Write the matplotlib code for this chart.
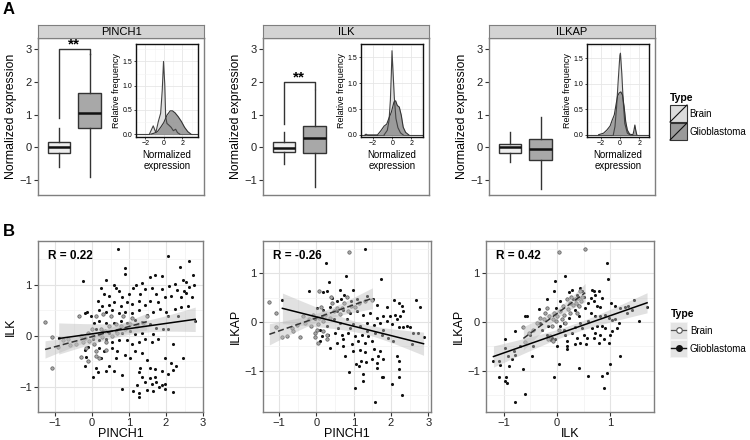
import numpy as np
import matplotlib
matplotlib.use('Agg')
import matplotlib.pyplot as plt
from matplotlib.patches import Rectangle

plt.rcParams['font.family'] = ['Liberation Sans', 'DejaVu Sans']

W, H = 750, 440

# ---------------- panel A data ----------------
genes = ['PINCH1', 'ILK', 'ILKAP']
types = ['Brain', 'Glioblastoma']

# whislo, q1, median, q3, whishi
box_brain = [[-0.60, -0.18, 0.00, 0.17, 0.58],
             [-0.50, -0.15, -0.02, 0.17, 0.48],
             [-0.44, -0.18, 0.02, 0.10, 0.48]]
box_gbm = [[-0.92, 0.60, 1.06, 1.68, 2.85],
           [-1.22, -0.16, 0.28, 0.66, 1.75],
           [-1.29, -0.39, -0.05, 0.27, 0.94]]

signif = ['**', '**', '']
bracket_top = [3.0, 2.0, None]
bracket_left = [0.89, 0.72, None]
bracket_right = [2.87, 1.80, None]

# density insets (x, relative frequency)
dens_brain = {
    'PINCH1': ([-1.55, -1.14, -0.86, -0.59, -0.34, -0.17, -0.03, 0.10, 0.20, 0.34, 0.52, 0.79, 1.03, 1.28, 1.48, 1.72],
               [0.00, 0.17, 0.03, 0.26, 0.43, 0.90, 1.50, 1.04, 0.36, 0.22, 0.19, 0.14, 0.07, 0.10, 0.03, 0.00]),
    'ILK': ([-0.86, -0.52, -0.34, -0.20, -0.10, -0.03, 0.07, 0.21, 0.38, 0.59, 0.86, 1.14],
            [0.00, 0.09, 0.28, 0.67, 1.18, 1.63, 1.25, 0.73, 0.32, 0.14, 0.04, 0.00]),
    'ILKAP': ([-0.71, -0.54, -0.37, -0.20, -0.03, 0.03, 0.17, 0.31, 0.48, 0.75, 0.99],
              [0.00, 0.16, 0.55, 1.07, 1.56, 1.60, 1.20, 0.68, 0.22, 0.03, 0.00]),
}
dens_gbm = {
    'PINCH1': ([-1.38, -1.03, -0.69, -0.34, 0.00, 0.34, 0.69, 0.93, 1.21, 1.55, 1.90, 2.24, 2.59, 2.93],
               [0.00, 0.02, 0.05, 0.14, 0.24, 0.39, 0.48, 0.48, 0.44, 0.36, 0.26, 0.14, 0.05, 0.00]),
    'ILK': ([-2.85, -2.75, -2.60, -1.55, -1.20, -0.86, -0.58, -0.34, -0.10, 0.18, 0.35, 0.52, 0.73, 0.94, 1.14, 1.39, 1.73],
            [0.00, 0.015, 0.00, 0.00, 0.08, 0.17, 0.21, 0.33, 0.44, 0.64, 0.66, 0.57, 0.54, 0.38, 0.15, 0.05, 0.00]),
    'ILKAP': ([-2.24, -1.73, -1.39, -1.05, -0.82, -0.61, -0.44, -0.27, -0.10, 0.07, 0.24, 0.41, 0.58, 0.75, 0.99, 1.33, 1.43, 1.53, 1.63, 1.73],
              [0.00, 0.03, 0.09, 0.17, 0.29, 0.39, 0.58, 0.76, 0.82, 0.84, 0.78, 0.55, 0.25, 0.09, 0.01, 0.00, 0.08, 0.19, 0.08, 0.00]),
}
inset_xlim = {'PINCH1': (-2.66, 3.69), 'ILK': (-3.27, 3.21), 'ILKAP': (-3.45, 2.85)}
inset_ylim = {'PINCH1': (-0.06, 1.86), 'ILK': (-0.04, 1.76), 'ILKAP': (-0.045, 1.78)}

# ---------------- panel B data ----------------
pinch1_ilk_gbm = [
    (0.71, 1.70), (2.05, 1.56), (2.63, 1.47), (2.37, 1.34), (0.88, 1.33), (2.74, 1.20), (0.90, 1.22),
    (-0.25, 1.08), (0.39, 1.09), (1.70, 1.19), (1.88, 1.18), (1.57, 1.16), (2.25, 1.01), (2.08, 0.97),
    (2.30, 0.89), (2.48, 0.88), (2.54, 0.83), (2.40, 0.75), (2.14, 0.78), (2.76, 1.00), (2.79, 0.28),
    (0.59, 1.00), (0.64, 0.94), (0.24, 0.94), (0.33, 0.81), (0.46, 0.78), (0.73, 0.88), (0.81, 0.75),
    (0.99, 0.81), (1.12, 0.94), (1.19, 1.00), (1.35, 1.03), (1.43, 0.91), (1.30, 0.81), (1.61, 0.94),
    (1.74, 0.81), (1.88, 0.91), (1.96, 0.75), (1.79, 0.66), (1.57, 0.69), (1.43, 0.61), (1.26, 0.69),
    (1.08, 0.63), (0.95, 0.66), (0.77, 0.59), (0.59, 0.66), (0.46, 0.61), (0.28, 0.59), (0.15, 0.69),
    (0.19, 0.50), (0.37, 0.47), (0.55, 0.51), (0.73, 0.44), (0.90, 0.47), (1.08, 0.44), (1.26, 0.50),
    (1.48, 0.41), (1.66, 0.47), (1.83, 0.53), (2.01, 0.47), (2.23, 0.53), (2.41, 0.56), (2.60, 0.59),
    (2.32, 0.38), (2.05, 0.38), (-0.14, 0.47), (-0.20, 0.44), (-0.34, 0.38), (-0.03, 0.38), (0.06, 0.25),
    (0.19, 0.28), (0.37, 0.25), (0.59, 0.25), (0.77, 0.28), (0.95, 0.25), (1.17, 0.31), (1.35, 0.26),
    (1.57, 0.22), (1.74, 0.16), (1.92, 0.13), (2.05, 0.13), (0.11, 0.13), (0.28, 0.09), (0.46, 0.06),
    (0.64, 0.09), (0.81, 0.05), (1.04, 0.09), (1.17, 0.03), (1.35, 0.06), (1.66, 0.03), (0.02, -0.06),
    (0.19, -0.09), (0.37, -0.06), (0.55, -0.13), (0.73, -0.08), (0.95, -0.09), (1.08, -0.16), (1.26, -0.13),
    (1.43, -0.06), (1.61, -0.13), (1.79, -0.06), (-0.20, -0.28), (-0.12, -0.22), (0.19, -0.25), (0.33, -0.31),
    (0.55, -0.25), (0.68, -0.31), (0.90, -0.38), (1.17, -0.31), (1.35, -0.34), (1.04, -0.44), (0.64, -0.44),
    (0.24, -0.44), (-0.16, -0.41), (-0.20, -0.59), (0.11, -0.63), (0.46, -0.59), (0.59, -0.69), (0.81, -0.78),
    (0.02, -0.81), (0.15, -0.72), (0.37, -0.69), (1.48, -0.47), (1.96, -0.44), (2.19, -0.16), (2.45, -0.44),
    (2.14, -0.53), (2.05, -0.75), (2.26, -0.59), (2.20, -0.68), (1.30, -0.63), (1.26, -0.72), (1.35, -0.81),
    (1.43, -0.91), (1.57, -0.84), (1.70, -0.81), (1.61, -0.94), (1.74, -0.91), (1.88, -0.97), (1.96, -0.95),
    (1.22, -0.97), (0.81, -1.05), (1.12, -1.08), (1.26, -1.13), (1.28, -1.20), (1.48, -1.06), (1.64, -1.09),
    (1.81, -1.01), (2.20, -1.11), (1.96, -1.05), (1.57, -0.63), (1.70, -0.66), (1.88, -0.69), (-0.90, -0.05),
    (2.55, 1.05), (2.70, 0.75), (2.45, 1.10), (2.62, 0.95),
]
pinch1_ilk_brain = [
    (-1.27, 0.26), (-1.09, -0.63), (-1.09, -0.03), (-0.91, -0.22), (-0.78, -0.09), (-0.65, -0.06),
    (-0.60, -0.19), (-0.42, -0.16), (-0.36, 0.39), (-0.29, 0.00), (-0.25, -0.13), (-0.18, -0.05),
    (-0.12, 0.06), (-0.07, -0.11), (0.00, 0.13), (0.04, 0.00), (0.06, -0.16), (0.11, 0.38), (0.12, -0.31),
    (0.19, 0.03), (0.24, 0.14), (0.28, -0.03), (0.31, 0.42), (0.35, 0.09), (0.39, -0.13), (0.46, 0.19),
    (0.50, 0.38), (0.55, 0.00), (0.64, 0.22), (0.68, 0.06), (0.77, 0.19), (0.83, 0.39), (0.90, 0.13),
    (1.04, 0.22), (1.08, 0.34), (1.21, 0.19), (1.37, 0.25), (1.48, 0.38), (0.19, -0.44), (-0.12, -0.50),
    (0.11, -0.39), (0.37, -0.28), (-0.29, -0.41), (-0.16, -0.25),
]
pinch1_ilkap_gbm = [
    (0.26, 1.20), (0.79, 0.95), (1.30, 1.49), (1.72, 0.88), (-0.19, 0.64), (0.35, 0.81), (0.19, 0.61),
    (0.29, 0.63), (0.41, 0.49), (0.63, 0.66), (0.74, 0.56), (0.83, 0.51), (0.99, 0.65), (0.65, 0.46),
    (0.54, 0.42), (0.92, 0.42), (1.08, 0.46), (1.35, 0.54), (1.51, 0.46), (1.62, 0.35), (1.88, 0.31),
    (2.08, 0.44), (2.21, 0.39), (2.30, 0.32), (2.33, 0.22), (2.24, 0.12), (2.11, 0.15), (1.97, 0.12),
    (2.67, 0.44), (2.78, 0.31), (2.42, -0.09), (2.51, -0.11), (2.60, -0.22), (2.73, -0.22), (2.87, -0.31),
    (2.55, -0.46), (2.22, -0.10), (2.33, -0.10), (0.01, 0.29), (0.19, 0.25), (0.37, 0.31), (0.54, 0.22),
    (0.72, 0.25), (0.90, 0.18), (1.08, 0.22), (1.26, 0.15), (1.44, 0.18), (1.62, 0.08), (1.79, 0.12),
    (1.88, 0.01), (1.71, -0.02), (1.53, -0.07), (1.35, -0.02), (1.17, -0.09), (0.99, -0.05), (0.81, 0.05),
    (0.63, -0.02), (0.46, 0.05), (0.28, -0.09), (0.10, -0.16), (0.14, -0.29), (0.32, -0.26), (0.50, -0.22),
    (0.68, -0.26), (0.86, -0.22), (1.04, -0.29), (1.21, -0.26), (1.39, -0.29), (1.57, -0.22), (1.75, -0.26),
    (1.93, -0.33), (2.06, -0.39), (1.48, -0.39), (1.30, -0.43), (1.12, -0.39), (0.95, -0.46), (0.72, -0.50),
    (0.54, -0.43), (0.37, -0.53), (0.77, -0.70), (0.72, -0.36), (0.99, -0.60), (1.17, -0.58), (1.30, -0.62),
    (1.53, -0.56), (1.71, -0.60), (1.66, -0.70), (1.79, -0.77), (1.62, -0.84), (1.48, -0.77), (1.19, -0.80),
    (1.06, -0.87), (1.15, -0.90), (1.33, -0.82), (2.15, -0.70), (2.20, -0.80), (1.75, -1.14), (1.79, -1.14),
    (1.62, -0.94), (0.87, -1.03), (1.26, -1.07), (1.26, -1.22), (1.04, -1.35), (2.02, -1.27), (2.22, -0.97),
    (2.22, -1.14), (2.28, -1.50), (1.56, -1.65), (-0.04, 0.05), (0.10, -0.39), (0.14, 0.12), (0.59, -0.12),
    (0.90, -0.12), (1.35, -0.19), (1.79, -0.16), (2.02, -0.05), (2.15, 0.05), (-0.91, 0.45),
]
pinch1_ilkap_brain = [
    (-1.26, 0.40), (-1.09, 0.18), (-1.08, -0.10), (-0.79, -0.29), (-0.66, -0.12), (-0.62, -0.18),
    (-0.53, -0.07), (-0.44, -0.31), (-0.37, 0.13), (-0.30, -0.02), (-0.21, 0.05), (-0.15, -0.09),
    (-0.08, 0.15), (-0.04, -0.22), (0.03, -0.43), (0.04, -0.05), (0.08, 0.08), (0.12, 0.31), (0.19, 0.01),
    (0.23, 0.15), (0.28, -0.26), (0.29, -0.36), (0.37, 0.08), (0.41, 0.39), (0.46, 0.22), (0.54, 0.29),
    (0.62, 0.17), (0.68, 0.29), (0.74, 0.39), (0.84, 0.22), (0.88, 1.43), (0.93, 0.33), (0.38, 0.52),
    (0.81, 0.51), (1.04, 0.31), (1.15, 0.39), (1.30, 0.42), (0.08, 0.63), (0.17, -0.19), (0.01, -0.16),
    (-0.04, -0.31), (1.50, 0.45), (-0.93, -0.31),
]
ilk_ilkap_gbm = [
    (-1.19, -0.80), (-1.08, -0.80), (-1.06, -0.89), (-1.09, -1.14), (-0.97, -0.36), (-0.97, -0.53),
    (-0.91, -0.70), (-0.89, -0.90), (-0.84, -0.77), (-0.95, -1.14), (-0.97, -1.21), (-0.93, -1.26),
    (-0.81, -0.59), (-0.78, -0.69), (-0.79, -0.19), (-0.78, -1.65), (-0.63, -0.97), (-0.59, -1.48),
    (-0.59, 0.12), (-0.56, 0.13), (-0.47, -0.70), (-0.34, 0.27), (-0.31, -0.02), (-0.19, 0.46),
    (-0.16, -0.09), (-0.09, -0.33), (-0.12, -0.37), (-0.06, 0.63), (-0.03, 0.83), (-0.05, -1.14),
    (0.03, -0.87), (-0.01, 0.29), (0.06, 0.42), (0.13, -0.16), (0.16, -0.26), (0.19, -0.56), (0.19, -0.50),
    (0.18, -0.39), (0.16, 0.95), (0.22, 0.61), (0.28, 0.66), (0.31, 0.46), (0.38, 0.56), (0.34, 0.25),
    (0.39, 0.35), (0.44, 0.69), (0.47, 0.63), (0.50, 0.52), (0.41, 0.12), (0.44, -0.02), (0.47, -0.12),
    (0.34, -0.46), (0.44, -0.44), (0.33, -0.10), (0.50, -0.26), (0.55, -0.46), (0.41, -0.94), (0.58, -1.11),
    (0.63, 0.49), (0.66, 0.66), (0.69, 0.63), (0.72, 0.56), (0.78, 0.63), (0.84, 0.49), (0.69, 0.42),
    (0.75, 0.32), (0.81, 0.31), (0.63, 0.18), (0.72, 0.12), (0.81, 0.12), (0.91, 0.15), (0.97, 0.08),
    (1.03, 0.03), (1.08, 0.06), (1.16, -0.02), (1.13, -0.12), (1.03, -0.19), (1.00, -0.26), (0.91, -0.12),
    (0.84, -0.09), (0.75, -0.09), (0.66, -0.12), (0.59, 0.01), (0.72, -0.22), (0.81, -0.26), (0.88, -0.36),
    (0.97, -0.43), (0.69, -0.33), (0.78, -0.43), (0.56, -0.33), (0.94, 1.20), (0.95, 0.88), (0.94, -1.04),
    (0.89, -1.35), (0.84, -1.11), (0.99, -0.87), (1.19, -0.70), (1.28, 0.31), (1.34, 0.32), (1.44, 0.44),
    (1.53, 0.01), (1.69, 0.30), (1.31, 0.18), (1.41, 0.25), (1.19, 0.29), (1.09, 0.32), (1.01, 0.39),
    (0.13, -0.02), (0.22, 0.08), (0.06, -0.09), (0.28, -0.22), (0.38, -0.33), (0.00, -0.50), (-0.03, -0.36),
    (-0.19, -0.26), (-0.28, -0.16), (-0.50, -0.26), (-0.44, -0.50), (-0.69, -0.50), (0.53, 0.29), (0.58, 0.39),
]
ilk_ilkap_brain = [
    (0.03, 1.43), (0.53, 1.49), (-0.63, -0.11), (-0.53, -0.22), (-0.44, -0.16), (-0.38, -0.02),
    (-0.31, 0.08), (-0.25, 0.05), (-0.22, 0.18), (-0.19, 0.29), (-0.14, 0.12), (-0.13, -0.29),
    (-0.09, -0.09), (-0.08, 0.05), (-0.05, 0.18), (-0.01, 0.01), (0.01, 0.12), (0.04, -0.16), (0.06, 0.22),
    (0.09, 0.05), (0.11, 0.32), (0.14, 0.15), (0.18, 0.46), (0.20, 0.27), (0.24, 0.39), (0.26, 0.51),
    (0.30, 0.35), (0.33, 0.46), (0.36, 0.39), (0.39, 0.48), (0.42, 0.32), (0.45, 0.42), (0.47, 0.51),
    (0.25, 0.18), (0.38, 0.18), (0.16, -0.02), (-0.16, -0.36), (-0.08, -0.39), (0.44, 0.63), (-0.60, -0.42),
]

scatter_sets = [
    ('PINCH1', 'ILK', pinch1_ilk_brain, pinch1_ilk_gbm, 'R = 0.22'),
    ('PINCH1', 'ILKAP', pinch1_ilkap_brain, pinch1_ilkap_gbm, 'R = -0.26'),
    ('ILK', 'ILKAP', ilk_ilkap_brain, ilk_ilkap_gbm, 'R = 0.42'),
]

BRAIN_FILL = '#eeeeee'
GBM_FILL = '#a8a8a8'
DARK = '#333333'
BORDER = '#7f7f7f'


def fig_rect(x0, y0, x1, y1):
    return [x0 / W, 1 - y1 / H, (x1 - x0) / W, (y1 - y0) / H]


def lm_band(pts):
    x = np.array([p[0] for p in pts])
    y = np.array([p[1] for p in pts])
    n = len(x)
    b, a = np.polyfit(x, y, 1)
    xs = np.linspace(x.min(), x.max(), 80)
    fit = a + b * xs
    s = np.sqrt(((y - (a + b * x)) ** 2).sum() / (n - 2))
    sxx = ((x - x.mean()) ** 2).sum()
    t = 1.96 + 2.5 / (n - 2)
    se = s * np.sqrt(1.0 / n + (xs - x.mean()) ** 2 / sxx)
    return xs, fit, fit - t * se, fit + t * se


def style_ticks(ax, size=8):
    ax.tick_params(direction='out', length=3, width=0.8, color=DARK,
                   labelsize=size, labelcolor='#222222', pad=1.5)
    for sp in ax.spines.values():
        sp.set_color(BORDER)
        sp.set_linewidth(1.0)


fig = plt.figure(figsize=(7.5, 4.4), dpi=100)

# ---------------- A ----------------
top_left = [38, 263, 489]
for i, g in enumerate(genes):
    x0 = top_left[i]
    ax = fig.add_axes(fig_rect(x0, 38, x0 + 166, 195))
    stats = []
    for lab, b in zip(types, [box_brain[i], box_gbm[i]]):
        stats.append(dict(whislo=b[0], q1=b[1], med=b[2], q3=b[3], whishi=b[4], label=lab))
    res = ax.bxp(stats, positions=[1, 2], widths=0.73, showfliers=False, showcaps=False,
                 patch_artist=True,
                 boxprops=dict(edgecolor=DARK, linewidth=1.0),
                 whiskerprops=dict(color=DARK, linewidth=1.0),
                 medianprops=dict(color='#111111', linewidth=1.8))
    for patch, col in zip(res['boxes'], [BRAIN_FILL, GBM_FILL]):
        patch.set_facecolor(col)
    if signif[i]:
        ax.plot([1, 1, 2, 2], [bracket_left[i], bracket_top[i], bracket_top[i], bracket_right[i]],
                color=DARK, lw=1.0)
        ax.text(1.5, bracket_top[i] - 0.06, signif[i], ha='center', va='bottom',
                fontsize=11, fontweight='bold')
    ax.set_xlim(0.32, 5.72)
    ax.set_ylim(-1.46, 3.35)
    ax.set_xticks([])
    ax.set_yticks([-1, 0, 1, 2, 3])
    style_ticks(ax)
    ax.set_ylabel('Normalized expression', fontsize=8.8, labelpad=1.5)

    # strip
    st = fig.add_axes(fig_rect(x0, 25, x0 + 166, 38))
    st.set_facecolor('#d3d3d3')
    st.set_xticks([])
    st.set_yticks([])
    for sp in st.spines.values():
        sp.set_color(BORDER)
    st.text(0.5, 0.45, g, ha='center', va='center', fontsize=8, transform=st.transAxes)

    # density inset
    ins = fig.add_axes(fig_rect(x0 + 98, 44, x0 + 160, 137))
    ins.set_xlim(*inset_xlim[g])
    ins.set_ylim(*inset_ylim[g])
    ins.set_xticks([-2, 0, 2])
    ins.set_xticks([-3, -1, 1, 3], minor=True)
    ins.set_yticks([0, 0.5, 1.0, 1.5])
    ins.set_yticks([0.25, 0.75, 1.25, 1.75], minor=True)
    ins.set_yticklabels(['0.0', '0.5', '1.0', '1.5'])
    ins.grid(True, which='major', color='#e6e6e6', lw=0.6)
    ins.grid(True, which='minor', color='#f3f3f3', lw=0.4)
    ins.set_axisbelow(True)
    ins.axhline(0, color='#444444', lw=0.8, zorder=1)
    bx, by = dens_brain[g]
    gx, gy = dens_gbm[g]
    ins.fill_between(bx, 0, by, color='#dedede', alpha=0.9, lw=0, zorder=2)
    ins.fill_between(gx, 0, gy, color='#8a8a8a', alpha=0.8, lw=0, zorder=3)
    ins.plot(bx, by, color='#444444', lw=0.8, zorder=4)
    ins.plot(gx, gy, color='#333333', lw=0.8, zorder=4)
    ins.tick_params(which='major', direction='out', length=1.5, width=0.5, labelsize=5, pad=1)
    ins.tick_params(which='minor', length=0)
    for sp in ins.spines.values():
        sp.set_color('#111111')
        sp.set_linewidth(1.0)
    ins.set_ylabel('Relative frequency', fontsize=6.5, labelpad=1.5)
    ins.set_xlabel('Normalized\nexpression', fontsize=7, labelpad=1.5, linespacing=1.15)

# ---------------- B ----------------
bot_rects = [(38, 241, 203, 412), (263, 241, 431, 412), (486, 241, 654, 412)]
bot_xlim = [(-1.46, 2.92), (-1.43, 3.07), (-1.33, 1.82)]
bot_ylim = [(-1.35, 1.86), (-1.85, 1.66), (-1.85, 1.66)]
bot_xticks = [[-1, 0, 1, 2, 3], [-1, 0, 1, 2, 3], [-1, 0, 1]]

for i, (xl, yl, brain, gbm, rtxt) in enumerate(scatter_sets):
    ax = fig.add_axes(fig_rect(*bot_rects[i]))
    ax.set_xlim(*bot_xlim[i])
    ax.set_ylim(*bot_ylim[i])
    ax.set_xticks(bot_xticks[i])
    ax.set_yticks([-1, 0, 1])
    ax.set_xticks(np.array(bot_xticks[i][:-1]) + 0.5, minor=True)
    ax.set_yticks([-1.5, -0.5, 0.5, 1.5], minor=True)
    ax.grid(True, which='major', color='#e3e3e3', lw=0.8)
    ax.grid(True, which='minor', color='#f2f2f2', lw=0.5)
    ax.set_axisbelow(True)
    ax.tick_params(which='minor', length=0)

    ax.scatter([p[0] for p in gbm], [p[1] for p in gbm], s=5, color='#111111', lw=0, zorder=3)
    ax.scatter([p[0] for p in brain], [p[1] for p in brain], s=6, facecolor='#a8a8a8',
               edgecolor='#5a5a5a', lw=0.5, zorder=3)

    for pts, ls, col in [(brain, (0, (4, 2)), '#333333'), (gbm, '-', '#000000')]:
        xs, fit, lo, hi = lm_band(pts)
        ax.fill_between(xs, lo, hi, color='#bdbdbd', alpha=0.45, lw=0, zorder=4)
        ax.plot(xs, fit, color=col, lw=1.1, ls=ls, zorder=5)

    ax.text(0.06, 0.95, rtxt, transform=ax.transAxes, ha='left', va='top',
            fontsize=8.5, fontweight='bold')
    style_ticks(ax)
    ax.set_xlabel(xl, fontsize=9, labelpad=0)
    ax.set_ylabel(yl, fontsize=9, labelpad=1.5)

# ---------------- overlay: panel letters & legends ----------------
ov = fig.add_axes([0, 0, 1, 1], zorder=10)
ov.set_xlim(0, W)
ov.set_ylim(H, 0)
ov.axis('off')

ov.text(3, 9, 'A', fontsize=12, fontweight='bold', va='center')
ov.text(3, 232, 'B', fontsize=12, fontweight='bold', va='center')

# legend A
ov.text(670, 98, 'Type', fontsize=7.5, fontweight='bold', va='center')
for k, (lab, col) in enumerate(zip(types, ['#dcdcdc', '#9a9a9a'])):
    y0 = 105 + k * 18
    ov.add_patch(Rectangle((670, y0), 17, 17, facecolor=col, edgecolor=DARK, lw=0.8))
    ov.plot([670, 687], [y0 + 17, y0], color='#111111', lw=0.8)
    ov.text(689, y0 + 9, lab, fontsize=7, va='center')

# legend B
ov.text(671, 314, 'Type', fontsize=7.5, fontweight='bold', va='center')
for k, lab in enumerate(types):
    y0 = 322 + k * 18
    ov.add_patch(Rectangle((670, y0), 17, 17, facecolor='#e4e4e4', edgecolor='#f5f5f5', lw=0.6))
    yc = y0 + 8.5
    if k == 0:
        ov.plot([671, 686], [yc, yc], color='#555555', lw=0.9)
        ov.plot([678.5], [yc], marker='o', ms=4, mfc='white', mec='#555555', mew=0.8)
    else:
        ov.plot([671, 686], [yc, yc], color='#111111', lw=1.0)
        ov.plot([678.5], [yc], marker='o', ms=4, mfc='#111111', mec='#111111')
    ov.text(690, yc, lab, fontsize=7, va='center')

fig.savefig('out.png', dpi=100)
